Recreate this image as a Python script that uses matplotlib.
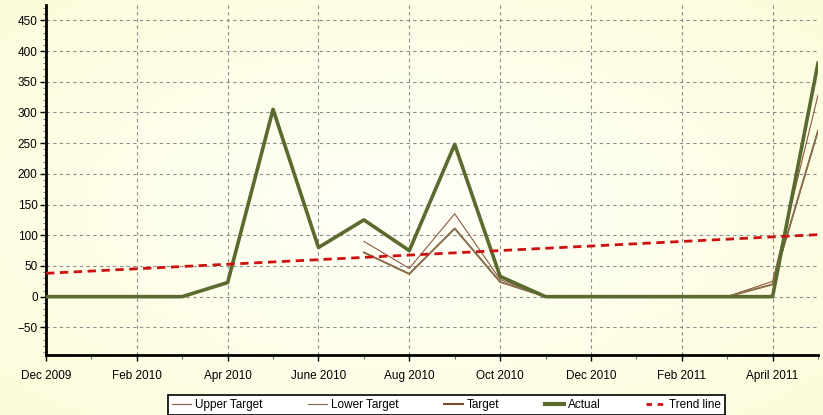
import numpy as np
import matplotlib.pyplot as plt
from matplotlib.ticker import MultipleLocator

plt.rcParams['font.family'] = ['Liberation Sans', 'DejaVu Sans']

# Monthly points, Dec 2009 .. May 2011 (index 0..17)
months = list(range(18))
actual = [0, 0, 0, 0, 23, 305, 80, 125, 75, 248, 33, 0, 0, 0, 0, 0, 0, 380]

# Target lines only exist from Jul 2010 (index 7)
target_months = list(range(7, 18))
upper_target = [90, 46, 135, 28, 0, 0, 0, 0, 0, 25, 328]
lower_target = [72, 37, 111, 24, 0, 0, 0, 0, 0, 20, 270]
target = [72, 37, 111, 24, 0, 0, 0, 0, 0, 20, 270]

# Trend line end points
trend_x = [0, 17]
trend_y = [38, 101]

tick_pos = [0, 2, 4, 6, 8, 10, 12, 14, 16]
tick_labels = ["Dec 2009", "Feb 2010", "Apr 2010", "June 2010", "Aug 2010",
               "Oct 2010", "Dec 2010", "Feb 2011", "April 2011"]

fig = plt.figure(figsize=(8.23, 4.15), dpi=100)

# soft yellow background gradient
bg = fig.add_axes([0, 0, 1, 1], zorder=-10)
yy, xx = np.mgrid[-1:1:200j, -1:1:400j]
r = np.clip(np.sqrt(xx**2 + yy**2) / 1.4, 0, 1)
c0 = np.array([1.0, 1.0, 0.975])
c1 = np.array([0.99, 0.99, 0.86])
img = c0 + (c1 - c0) * r[..., None]
bg.imshow(img, aspect='auto', extent=[0, 1, 0, 1])
bg.axis('off')

ax = fig.add_axes([0.0559, 0.1446, 0.938, 0.8434])
ax.set_facecolor('none')

ax.plot(target_months, target, color='#7a4a2a', lw=1.3, zorder=3)
ax.plot(target_months, upper_target, color='#8b5a40', lw=0.8, zorder=3)
ax.plot(target_months, lower_target, color='#8a7a58', lw=0.8, zorder=3)
ax.plot(months, actual, color='#5b6b30', lw=2.6, zorder=4)
ax.plot(trend_x, trend_y, color='#cc1111', lw=2, dashes=(3, 2), zorder=5)

ax.set_xlim(0, 17)
ax.set_ylim(-95, 475)
ax.set_xticks(tick_pos)
ax.set_xticklabels(tick_labels)
ax.xaxis.set_minor_locator(MultipleLocator(1))
ax.set_yticks(range(-50, 451, 50))
ax.yaxis.set_minor_locator(MultipleLocator(10))

ax.grid(True, which='major', color='#8c8c8c', lw=0.8, dashes=(3, 3))
for s in ['top', 'right']:
    ax.spines[s].set_visible(False)
for s in ['left', 'bottom']:
    ax.spines[s].set_linewidth(2)
    ax.spines[s].set_color('black')

ax.tick_params(axis='x', which='major', length=4, width=1, pad=7, labelsize=8.5)
ax.tick_params(axis='x', which='minor', length=3, width=0.8, color='#666666')
ax.tick_params(axis='y', which='major', length=4, width=1, pad=2, labelsize=8.5)
ax.tick_params(axis='y', which='minor', length=2, width=0.6, color='#666666')

handles = [
    plt.Line2D([], [], color='#8b5a40', lw=0.8),
    plt.Line2D([], [], color='#7a6a48', lw=0.8),
    plt.Line2D([], [], color='#7a4a2a', lw=1.5),
    plt.Line2D([], [], color='#5b6b30', lw=3),
    plt.Line2D([], [], color='#cc1111', lw=2, dashes=(2, 2)),
]
labels = ["Upper Target", "Lower Target", "Target", "Actual", "Trend line"]
leg = fig.legend(handles, labels, loc='upper center', bbox_to_anchor=(0.5425, 0.062),
                 ncol=5, fontsize=8.5, frameon=True, fancybox=False, shadow=False,
                 handlelength=1.6, handletextpad=0.3, columnspacing=3.9,
                 borderpad=0.35, edgecolor='black', facecolor='white', framealpha=1)
leg.get_frame().set_linewidth(1.2)

fig.savefig('out.png', dpi=100)
